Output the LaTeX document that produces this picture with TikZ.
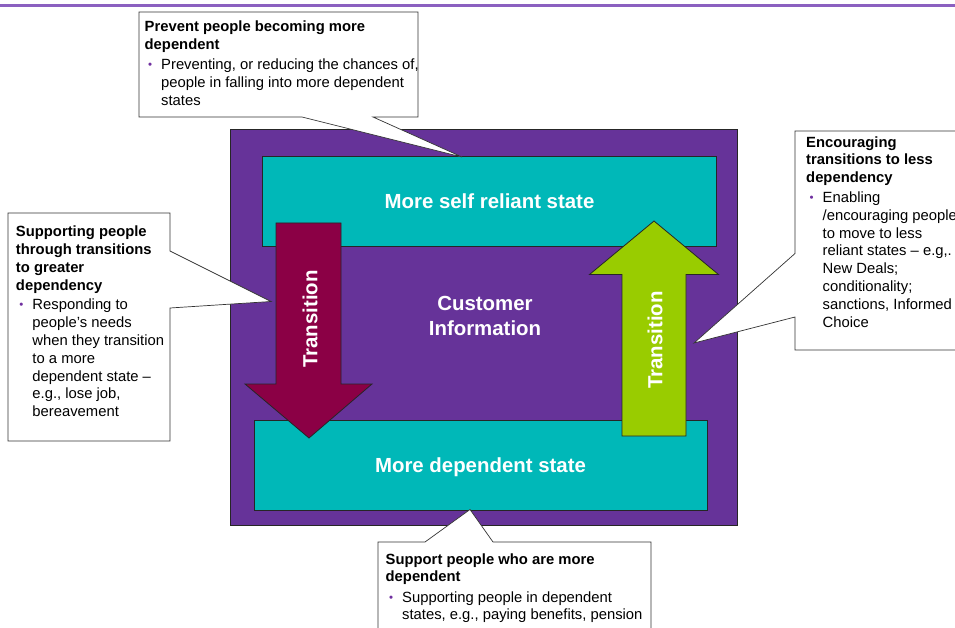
\documentclass[tikz,border=0pt]{standalone}
\usepackage{fontspec}
\setmainfont{Liberation Sans}

\definecolor{ruleline}{RGB}{139,96,192}
\definecolor{framepurple}{RGB}{102,51,153}
\definecolor{statecyan}{RGB}{0,184,184}
\definecolor{downmaroon}{RGB}{139,0,69}
\definecolor{uplime}{RGB}{153,204,0}
\definecolor{bulletpurple}{RGB}{112,48,160}

% bullet mark and hanging indent for callout lists
\newcommand\callbul{\makebox[16.5pt][l]{\hspace{3.5pt}\textcolor{bulletpurple}{\fontsize{11.5}{11.5}\selectfont\raisebox{1pt}{•}}}}
\newcommand\callind{\hspace*{16.5pt}}

\tikzset{
  outline/.style={draw=black!85, line width=0.8pt},
  frame/.style={outline, fill=framepurple, inner sep=0pt},
  statebox/.style={outline, fill=statecyan, inner sep=0pt, text=white,
    text height=14.7pt, text depth=0pt,
    font=\bfseries\fontsize{20.4}{25}\selectfont},
  bigtext/.style={text=white, inner sep=0pt, align=center,
    font=\bfseries\fontsize{20.4}{25}\selectfont},
  callout/.style={fill=white, draw=black!80, line width=0.7pt, line join=miter},
  calltext/.style={anchor=base west, inner sep=0pt,
    font=\fontsize{14.8}{17.8}\selectfont},
}

\begin{document}
\begin{tikzpicture}[x=1pt,y=-1pt]
\useasboundingbox (0,0) rectangle (955,628);
\clip (0,0) rectangle (955,628);

% heading rule
\draw[ruleline, line width=3pt] (0,5.7) -- (955,5.7);

% customer frame and the two states
\node[frame, minimum width=507.2pt, minimum height=395.5pt] (frame) at (484.1,327.25) {};
\node[statebox, minimum width=454.4pt, minimum height=89.3pt] (selfrel) at (489.5,201.4) {More self reliant state};
\node[statebox, minimum width=453pt, minimum height=89.3pt] (depend) at (480.5,465.35) {More dependent state};
\node[bigtext] (custinfo) at (485,315.5) {Customer\\Information};

% transition arrows
\draw[outline, fill=downmaroon] (276,223) -- (341,223) -- (341,384) -- (372,384)
  -- (309,438) -- (245,384) -- (276,384) -- cycle;
\draw[outline, fill=uplime] (622,436) -- (686,436) -- (686,274.5) -- (718.5,274.5)
  -- (654,221) -- (589.5,274.5) -- (622,274.5) -- cycle;
\node[bigtext, rotate=90] (downlbl) at (310,319) {Transition};
\node[bigtext, rotate=90] (uplbl) at (655,340) {Transition};

% callouts
\draw[callout] (139,12) -- (418,12) -- (418,117) -- (373,117) -- (462,157)
  -- (302,117) -- (139,117) -- cycle;
\node[calltext] (prevent) at (144.5,32) {\parbox[t]{300pt}{%
  \textbf{Prevent people becoming more}\\
  \textbf{dependent}\\[2.4pt]
  \callbul Preventing, or reducing the chances of,\\
  \callind people in falling into more dependent\\
  \callind states}};

\draw[callout] (8,213) -- (170,213) -- (170,251) -- (271,301.5) -- (170,308)
  -- (170,441) -- (8,441) -- cycle;
\node[calltext] (greater) at (15.8,237) {\parbox[t]{300pt}{%
  \textbf{Supporting people}\\
  \textbf{through transitions}\\
  \textbf{to greater}\\
  \textbf{dependency}\\[1.7pt]
  \callbul Responding to\\
  \callind people’s needs\\
  \callind when they transition\\
  \callind to a more\\
  \callind dependent state –\\
  \callind e.g., lose job,\\
  \callind bereavement}};

\draw[callout] (795,131) -- (975,131) -- (975,350) -- (795,350) -- (795,317)
  -- (694,343) -- (795,253.5) -- cycle;
\node[calltext] (less) at (806,147.2) {\parbox[t]{300pt}{%
  \textbf{Encouraging}\\
  \textbf{transitions to less}\\
  \textbf{dependency}\\[2pt]
  \callbul Enabling\\
  \callind /encouraging people\\
  \callind to move to less\\
  \callind reliant states – e.g,.\\
  \callind New Deals;\\
  \callind conditionality;\\
  \callind sanctions, Informed\\
  \callind Choice}};

\draw[callout] (378,542) -- (425,542) -- (470,509.5) -- (493,542) -- (651,542)
  -- (651,645) -- (378,645) -- cycle;
\node[calltext] (support) at (385.5,564) {\parbox[t]{300pt}{%
  \textbf{Support people who are more}\\
  \textbf{dependent}\\[2.5pt]
  \callbul Supporting people in dependent\\
  \callind states, e.g., paying benefits, pension}};
\end{tikzpicture}
\end{document}
